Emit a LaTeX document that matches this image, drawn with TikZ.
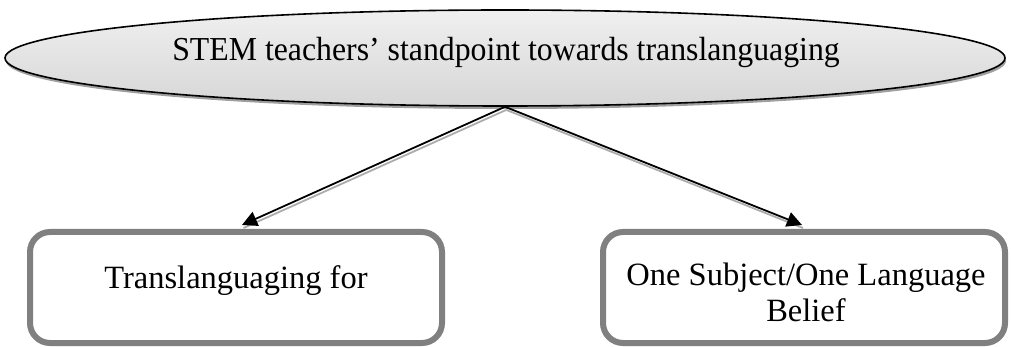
\documentclass[tikz,border=0pt]{standalone}
\usepackage{fontspec}
\setmainfont{Liberation Serif}
\usetikzlibrary{shapes.geometric,shadows,arrows.meta,calc}
\begin{document}
\begin{tikzpicture}[x=1pt,y=-1pt,
  oval/.style={ellipse,draw=black,line width=1.6pt,top color=gray!12,bottom color=gray!32,
    minimum width=1000pt,minimum height=96pt,inner sep=0pt,
    drop shadow={shadow xshift=1pt,shadow yshift=-3pt,fill=gray!75,opacity=1}},
  bigtext/.style={font=\fontsize{32.5}{36}\selectfont,align=center},
  rbox/.style={draw=gray,line width=6pt,rounded corners=20pt,fill=white},
  conn/.style={line width=1.8pt,-{Triangle[length=15pt,width=15pt]}},
  connshadow/.style={line width=1.8pt,gray!65},
]
\useasboundingbox (0,0) rectangle (1011,347);
\node[oval] (top) at (505,58) {};
\node[font=\fontsize{33.5}{36}\selectfont,anchor=base,inner sep=0pt] (toptext) at (506,61) {\scalebox{0.949}[1]{STEM teachers’ standpoint towards translanguaging}};
\node[rbox,minimum width=412pt,minimum height=111pt] (lbox) at (236,287.5) {};
\node[rbox,minimum width=402pt,minimum height=111pt] (rbox) at (804,287.5) {};
\node[bigtext] (ltext) at (236,281) {Translanguaging for};
\node[bigtext] (rtext) at (806,292) {One Subject/One Language\\Belief};
\coordinate (apex) at (top.south);
\coordinate (ltip) at ($(lbox.north)+(6,-4)$);
\coordinate (rtip) at ($(rbox.north)+(-2,-4)$);
\draw[connshadow] ($(apex)+(1.5,3)$) -- ($(ltip)+(1.5,3)$);
\draw[connshadow] ($(apex)+(1,3)$) -- ($(rtip)+(1,3)$);
\draw[conn] (apex) -- (ltip);
\draw[conn] (apex) -- (rtip);
\end{tikzpicture}
\end{document}
